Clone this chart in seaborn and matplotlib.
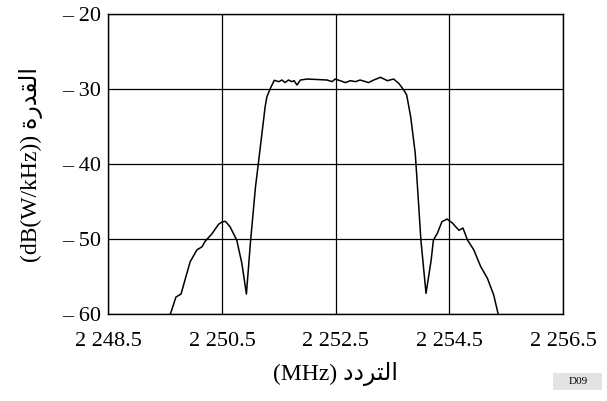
import numpy as np
import pandas as pd
import matplotlib
matplotlib.use("Agg")
import matplotlib.pyplot as plt
from matplotlib.patches import Rectangle
import seaborn as sns

# spectrum trace (MHz, dB(W/kHz))
FREQ = [2249.55, 2249.60, 2249.69, 2249.78, 2249.85, 2249.94, 2250.06, 2250.15,
        2250.20, 2250.32, 2250.44, 2250.50, 2250.56, 2250.64, 2250.76, 2250.85,
        2250.93, 2251.00, 2251.09, 2251.14, 2251.26, 2251.29, 2251.35, 2251.42,
        2251.50, 2251.555, 2251.61, 2251.67, 2251.73, 2251.77, 2251.82, 2251.88,
        2252.00, 2252.35, 2252.44, 2252.49, 2252.58, 2252.67, 2252.76, 2252.85,
        2252.93, 2253.08, 2253.17, 2253.29, 2253.41, 2253.52, 2253.61, 2253.70,
        2253.75, 2253.82, 2253.90, 2253.94, 2254.00, 2254.09, 2254.18, 2254.22,
        2254.29, 2254.37, 2254.46, 2254.55, 2254.67, 2254.74, 2254.82, 2254.93,
        2255.05, 2255.17, 2255.28, 2255.37]
POWER = [-60.5, -59.8, -57.7, -57.3, -55.4, -53.0, -51.4, -51.0,
         -50.3, -49.3, -48.0, -47.7, -47.6, -48.3, -50.1, -53.2,
         -57.3, -50.5, -43.0, -39.9, -32.3, -31.0, -29.9, -28.8,
         -28.98, -28.76, -29.1, -28.76, -28.98, -28.85, -29.43, -28.76,
         -28.63, -28.76, -28.98, -28.63, -28.85, -29.1, -28.85, -28.98,
         -28.76, -29.1, -28.76, -28.4, -28.85, -28.63, -29.2, -30.1,
         -30.76, -33.65, -38.5, -43.0, -50.1, -57.2, -52.8, -50.1,
         -49.2, -47.65, -47.3, -47.8, -48.8, -48.5, -50.1, -51.4,
         -53.6, -55.2, -57.4, -60.3]

X_TICKS = [2248.5, 2250.5, 2252.5, 2254.5, 2256.5]
X_LABELS = ["2 248.5", "2 250.5", "2 252.5", "2 254.5", "2 256.5"]
Y_TICKS = [-60, -50, -40, -30, -20]
Y_LABELS = ["\u2013 60", "\u2013 50", "\u2013 40", "\u2013 30", "\u2013 20"]

# Arabic in presentation forms, visual order (matplotlib does no shaping)
X_TITLE = "(MHz) \ufea9\ufea9\ufeae\ufe98\ufedf\ufe8d"        # التردد (MHz)
Y_TITLE = "(dB(W/kHz)) \ufe93\ufead\ufeaa\ufed8\ufedf\ufe8d"  # القدرة (dB(W/kHz))

df = pd.DataFrame({"freq": FREQ, "power": POWER})

sns.set_style("white")
plt.rcParams["font.family"] = ["Liberation Serif", "DejaVu Sans"]
plt.rcParams["text.color"] = "black"
plt.rcParams["xtick.color"] = "black"
plt.rcParams["ytick.color"] = "black"
plt.rcParams["axes.labelcolor"] = "black"

fig = plt.figure(figsize=(6.07, 4.01), dpi=100)
ax = fig.add_axes([0.1784, 0.2162, 0.7491, 0.7481])

sns.lineplot(data=df, x="freq", y="power", color="black", linewidth=1.1,
             ax=ax, sort=False)

ax.set_xlim(2248.5, 2256.5)
ax.set_ylim(-60, -20)
ax.set_xticks(X_TICKS)
ax.set_xticklabels(X_LABELS, fontsize=16)
ax.set_yticks(Y_TICKS)
ax.set_yticklabels(Y_LABELS, fontsize=16)
ax.tick_params(length=0)
ax.tick_params(axis="x", pad=13)
ax.tick_params(axis="y", pad=5)
ax.grid(True, color="black", linewidth=0.9)
for s in ax.spines.values():
    s.set_color("black")
    s.set_linewidth(1.0)

ax.set_xlabel(X_TITLE, fontsize=17, labelpad=8)
ax.set_ylabel(Y_TITLE, fontsize=17, labelpad=14)

fig.patches.append(Rectangle((0.911, 0.0274), 0.081, 0.0424,
                             transform=fig.transFigure, fc="#e3e3e3", ec="none"))
fig.text(0.952, 0.049, "D09", fontsize=8, ha="center", va="center")

fig.savefig("out.png", dpi=100)
